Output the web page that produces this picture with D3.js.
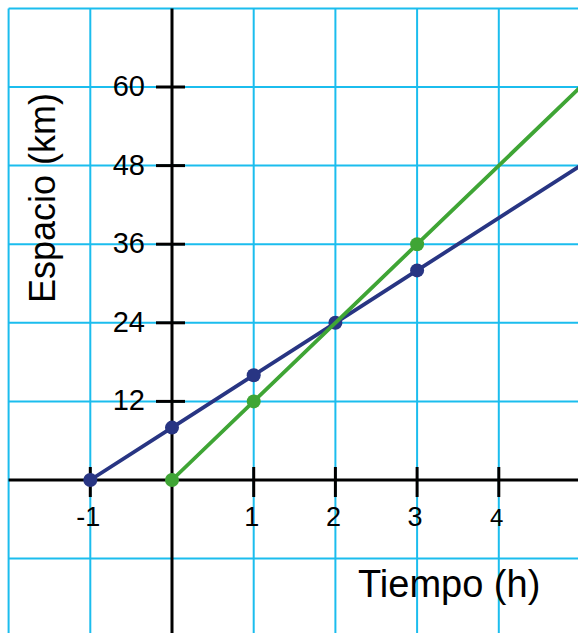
<!DOCTYPE html>
<html>
<head>
<meta charset="utf-8">
<script src="https://cdn.jsdelivr.net/npm/d3@7"></script>
<style>
html,body{margin:0;padding:0;background:#fff;}
svg{display:block;}
text{font-family:"Liberation Sans",Arial,Helvetica,sans-serif;fill:#000;}
</style>
</head>
<body>
<svg id="chart" width="578" height="633"></svg>
<script>
// ---- data ----
const xTicks = [-1, 1, 2, 3, 4];
const yTicks = [12, 24, 36, 48, 60];
const xGrid = [-2, -1, 0, 1, 2, 3, 4];
const yGrid = [-12, 0, 12, 24, 36, 48, 60, 72];

const blueTime = [-1, 0, 1, 2, 3, 5];
const blueKm   = [0, 8, 16, 24, 32, 48];
const blueMarkTime = [-1, 0, 1, 2, 3];
const blueMarkKm   = [0, 8, 16, 24, 32];

const greenTime = [0, 1, 2, 3, 5];
const greenKm   = [0, 12, 24, 36, 60];
const greenMarkTime = [0, 1, 3];
const greenMarkKm   = [0, 12, 36];

const xLabel = "Tiempo (h)";
const yLabel = "Espacio (km)";

// ---- layout ----
const W = 578, H = 633;
const svg = d3.select("#chart");
const x = d3.scaleLinear().domain([0, 1]).range([172, 253.7]);
const y = d3.scaleLinear().domain([0, 60]).range([480, 87]);

const gridColor = "#1bbdee";
const blue = "#283583";
const green = "#3fa535";

const gx0 = x(-2), gy0 = y(72);

// grid
svg.append("g").selectAll("line").data(xGrid).join("line")
  .attr("x1", d => x(d)).attr("x2", d => x(d))
  .attr("y1", gy0).attr("y2", H)
  .attr("stroke", gridColor).attr("stroke-width", 2);
svg.append("g").selectAll("line").data(yGrid).join("line")
  .attr("x1", gx0).attr("x2", W)
  .attr("y1", d => y(d)).attr("y2", d => y(d))
  .attr("stroke", gridColor).attr("stroke-width", 2);

// axes
svg.append("line").attr("x1", gx0).attr("x2", W).attr("y1", y(0)).attr("y2", y(0))
  .attr("stroke", "#000").attr("stroke-width", 3);
svg.append("line").attr("x1", x(0)).attr("x2", x(0)).attr("y1", gy0).attr("y2", H)
  .attr("stroke", "#000").attr("stroke-width", 3);

// y ticks
svg.append("g").selectAll("line").data(yTicks).join("line")
  .attr("x1", x(0) - 16).attr("x2", x(0) + 13)
  .attr("y1", d => y(d)).attr("y2", d => y(d))
  .attr("stroke", "#000").attr("stroke-width", 3);
svg.append("g").selectAll("text").data(yTicks).join("text")
  .attr("x", x(0) - 27).attr("y", d => y(d) + 9)
  .attr("text-anchor", "end").attr("font-size", 29)
  .text(d => d);

// x ticks
svg.append("g").selectAll("line").data(xTicks).join("line")
  .attr("x1", d => x(d)).attr("x2", d => x(d))
  .attr("y1", y(0) - 13).attr("y2", y(0) + 17)
  .attr("stroke", "#000").attr("stroke-width", 3);
svg.append("g").selectAll("text").data(xTicks).join("text")
  .attr("x", d => x(d) - 2).attr("y", y(0) + 46)
  .attr("text-anchor", "middle").attr("font-size", d => d === 4 ? 24 : 27)
  .text(d => d);

// axis labels
svg.append("text").attr("x", 358).attr("y", 597)
  .attr("font-size", 38).text(xLabel);
svg.append("text").attr("transform", "translate(55,303) rotate(-90)")
  .attr("font-size", 36).text(yLabel);

// clip
svg.append("clipPath").attr("id", "clip").append("rect")
  .attr("x", 0).attr("y", 0).attr("width", W).attr("height", H);

const line = d3.line().x(d => x(d[0])).y(d => y(d[1]));
const plot = svg.append("g").attr("clip-path", "url(#clip)");

plot.append("path").datum(d3.zip(blueTime, blueKm)).attr("d", line)
  .attr("fill", "none").attr("stroke", blue).attr("stroke-width", 3.8);
plot.append("g").selectAll("circle").data(d3.zip(blueMarkTime, blueMarkKm)).join("circle")
  .attr("cx", d => x(d[0])).attr("cy", d => y(d[1])).attr("r", 7).attr("fill", blue);

plot.append("path").datum(d3.zip(greenTime, greenKm)).attr("d", line)
  .attr("fill", "none").attr("stroke", green).attr("stroke-width", 3.8);
plot.append("g").selectAll("circle").data(d3.zip(greenMarkTime, greenMarkKm)).join("circle")
  .attr("cx", d => x(d[0])).attr("cy", d => y(d[1])).attr("r", 7).attr("fill", green);
</script>
</body>
</html>
